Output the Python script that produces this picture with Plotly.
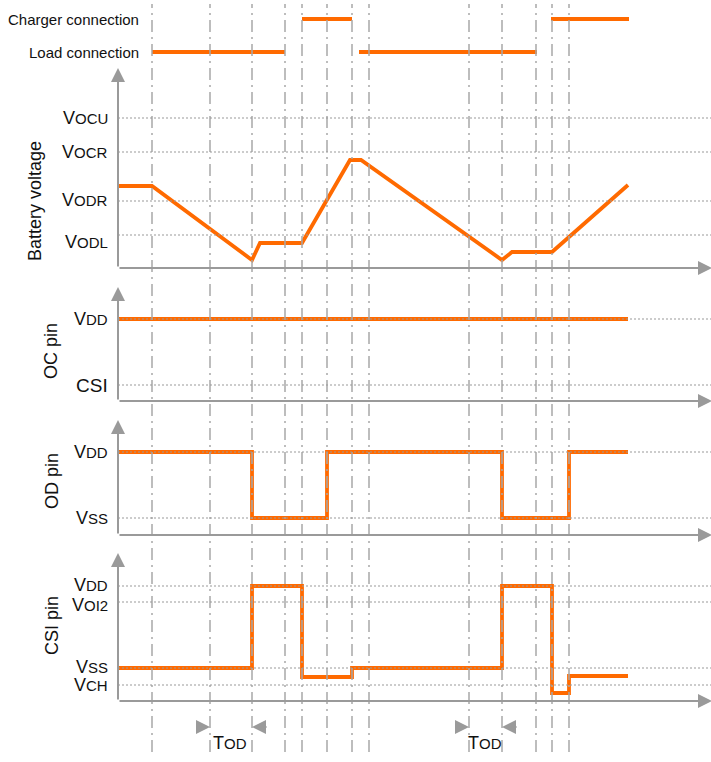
import plotly.graph_objects as go

W, H = 711, 762
FONT = "Liberation Sans, Arial, Helvetica, sans-serif"
ORANGE = "#FF6A00"
GRAY = "#A8A8A8"

# ---- time events (x, in time units) ----
event_times = [152, 210, 252, 285, 302, 327, 352, 369, 469, 502, 536, 552, 569]

# ---- connection states ----
conn_levels = {"Charger connection": 49, "Load connection": 16}
charger_on = [(302, 352), (551, 629)]
load_on = [(152, 285), (359, 537)]

# ---- battery voltage ----
batt_levels = {"OCU": 150, "OCR": 116, "ODR": 67, "ODL": 33}
batt_label_shift = {"OCU": 0, "OCR": 0, "ODR": 1, "ODL": -7}
batt_t = [118, 152, 252, 260, 302, 350, 361, 502, 512, 552, 628]
batt_v = [82, 82, 8, 25, 25, 108, 108, 8, 16, 16, 83]

# ---- OC pin ----
oc_levels = {"VDD": 82, "CSI": 16}
oc_t = [118, 628]
oc_v = [82, 82]

# ---- OD pin ----
od_levels = {"VDD": 83, "VSS": 17}
od_t = [118, 252, 327, 502, 569, 628]
od_v = [83, 17, 83, 17, 83, 83]

# ---- CSI pin ----
csi_levels = {"VDD": 115, "VOI2": 99, "VSS": 33, "VCH": 16}
csi_label_shift = {"VDD": 1, "VOI2": -3, "VSS": 1, "VCH": 0}
csi_t = [118, 252, 302, 352, 502, 552, 569, 628]
csi_v = [33, 115, 24, 33, 115, 8, 25, 25]

# T_OD delay intervals (start, end)
tod_intervals = [(210, 252), (469, 502)]

# ---- panel geometry (pixel rows: top, baseline) ----
panels = {
    "y":  (0, 68),      # connections
    "y2": (68, 268),    # battery
    "y3": (287, 401),   # OC
    "y4": (420, 535),   # OD
    "y5": (553, 701),   # CSI
}


def dom(top, bottom):
    return [1 - bottom / H, 1 - top / H]


fig = go.Figure()
line_style = dict(color=ORANGE, width=3.8)


def seg_xy(segs, level):
    xs, ys = [], []
    for a, b in segs:
        xs += [a, b, None]
        ys += [level, level, None]
    return xs, ys


x, y = seg_xy(charger_on, conn_levels["Charger connection"])
fig.add_trace(go.Scatter(x=x, y=y, mode="lines", line=line_style, yaxis="y"))
x, y = seg_xy(load_on, conn_levels["Load connection"])
fig.add_trace(go.Scatter(x=x, y=y, mode="lines", line=line_style, yaxis="y"))

fig.add_trace(go.Scatter(x=batt_t, y=batt_v, mode="lines", line=line_style, yaxis="y2"))
fig.add_trace(go.Scatter(x=oc_t, y=oc_v, mode="lines", line=line_style, yaxis="y3"))
fig.add_trace(go.Scatter(x=od_t, y=od_v, mode="lines", line=dict(line_style, shape="hv"), yaxis="y4"))
fig.add_trace(go.Scatter(x=csi_t, y=csi_v, mode="lines", line=dict(line_style, shape="hv"), yaxis="y5"))

shapes = []
annotations = []

for t in event_times:
    shapes.append(dict(type="line", xref="x", yref="paper", x0=t, x1=t,
                       y0=1 - 752 / H, y1=1 - 4 / H,
                       line=dict(color=GRAY, width=1.5, dash="12px,5px,2px,5px")))


def label(core, small):
    if small:
        return f'{core}<span style="font-size:15px">{small}</span>'
    return core


def level_lines(axis, levels, labels, shifts=None):
    for (name, val), lab in zip(levels.items(), labels):
        shapes.append(dict(type="line", xref="x", yref=axis, x0=118, x1=711,
                           y0=val, y1=val,
                           line=dict(color="#999999", width=1, dash="2px,2px")))
        dy = (shifts or {}).get(name, 0)
        annotations.append(dict(x=110, y=val + dy, xref="x", yref=axis, text=lab,
                                showarrow=False, xanchor="right", yanchor="middle",
                                font=dict(size=18, color="#111", family=FONT)))


level_lines("y2", batt_levels, [label("V", k) for k in batt_levels], batt_label_shift)
level_lines("y3", oc_levels, [label("V", "DD"), '<span style="font-size:19px">CSI</span>'])
level_lines("y4", od_levels, [label("V", "DD"), label("V", "SS")])
level_lines("y5", csi_levels, [label("V", "DD"), label("V", "OI2"), label("V", "SS"), label("V", "CH")],
            csi_label_shift)

arrow = dict(text="", showarrow=True, arrowhead=2, arrowsize=1.4, arrowwidth=2,
             arrowcolor="#9A9A9A", standoff=0, startstandoff=0)

for ax in ["y2", "y3", "y4", "y5"]:
    top, bot = panels[ax]
    h = bot - top
    annotations.append(dict(arrow, x=118, y=h, ax=118, ay=0, xref="x", yref=ax, axref="x", ayref=ax))
    annotations.append(dict(arrow, x=712, y=0, ax=118, ay=0, xref="x", yref=ax, axref="x", ayref=ax))

for a, b in tod_intervals:
    annotations.append(dict(arrow, x=a, y=1 - 727 / H, ax=-15, ay=0, xref="x", yref="paper",
                            axref="pixel", ayref="pixel"))
    annotations.append(dict(arrow, x=b, y=1 - 727 / H, ax=16, ay=0, xref="x", yref="paper",
                            axref="pixel", ayref="pixel"))
    annotations.append(dict(x=(a + b) / 2 - 1, y=1 - 743 / H, xref="x", yref="paper",
                            text=label("T", "OD"), showarrow=False, xanchor="center", yanchor="middle",
                            font=dict(size=18, color="#111", family=FONT)))

for name, val in conn_levels.items():
    annotations.append(dict(x=141, y=val, xref="x", yref="y", text=name, showarrow=False,
                            xanchor="right", yanchor="middle",
                            font=dict(size=15, color="#111", family=FONT)))

titles = [("Battery voltage", 35, 201), ("OC pin", 51, 351), ("OD pin", 52, 481), ("CSI pin", 52, 626)]
for txt, px, py in titles:
    annotations.append(dict(x=px, y=1 - py / H, xref="x", yref="paper", text=txt, showarrow=False,
                            textangle=-90, xanchor="center", yanchor="middle",
                            font=dict(size=18, color="#111", family=FONT)))

layout = dict(
    width=W, height=H, margin=dict(l=0, r=0, t=0, b=0),
    paper_bgcolor="white", plot_bgcolor="white", showlegend=False,
    xaxis=dict(range=[0, W], domain=[0, 1], visible=False, fixedrange=True),
    shapes=shapes, annotations=annotations,
)
for ax, (top, bot) in panels.items():
    key = "yaxis" if ax == "y" else "yaxis" + ax[1:]
    layout[key] = dict(domain=dom(top, bot), range=[0, bot - top], visible=False,
                       fixedrange=True, anchor="x")
fig.update_layout(**layout)

fig.write_html("out.html", config={"displayModeBar": False},
               post_script="document.body.style.margin='0';")
